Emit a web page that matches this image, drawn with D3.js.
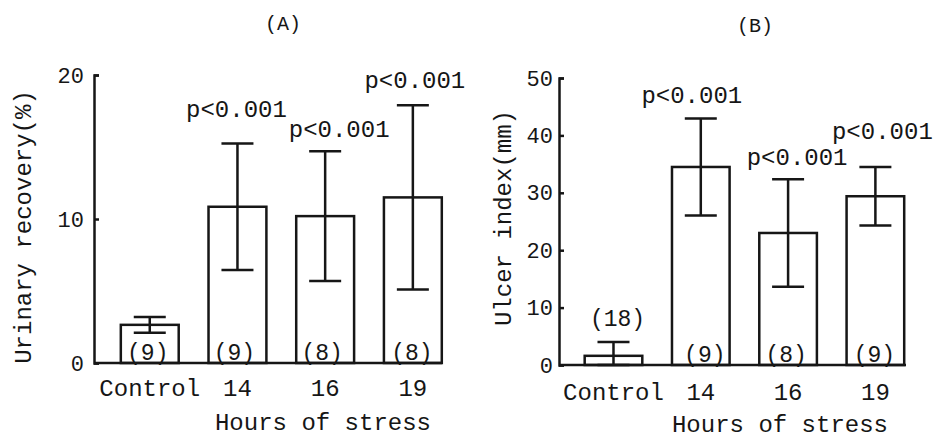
<!DOCTYPE html>
<html>
<head>
<meta charset="utf-8">
<script src="https://cdn.jsdelivr.net/npm/d3@7"></script>
<style>
  body { margin: 0; background: #fff; }
  svg text { font-family: "Liberation Mono", "DejaVu Sans Mono", monospace; fill: #161616; }
  .bar { fill: #fff; stroke: #161616; stroke-width: 2.5; }
  .err { stroke: #161616; stroke-width: 2.5; fill: none; }
  .axis path, .axis line { stroke: #161616; stroke-width: 2.5; }
</style>
</head>
<body>
<div class="wrapper-svg"></div>
<script>
// categories shared by both panels
var categories = ['Control', '14', '16', '19'];

// (A) urinary recovery (%)
var recoveryMean = [2.65, 10.85, 10.2, 11.5];
var recoverySem = [0.55, 4.4, 4.5, 6.4];
var recoveryN = ['(9)', '(9)', '(8)', '(8)'];
var recoveryP = ['', 'p<0.001', 'p<0.001', 'p<0.001'];
var recoveryTicks = [0, 10, 20];

// (B) ulcer index (mm)
var ulcerMean = [1.6, 34.5, 23.0, 29.4];
var ulcerSem = [2.4, 8.45, 9.35, 5.1];
var ulcerN = ['(18)', '(9)', '(8)', '(9)'];
var ulcerP = ['', 'p<0.001', 'p<0.001', 'p<0.001'];
var ulcerTicks = [0, 10, 20, 30, 40, 50];

var svg = d3.select('.wrapper-svg')
    .append('svg')
    .attr('width', 938)
    .attr('height', 440);

function drawPanel(p) {
    var x = d3.scaleBand()
        .domain(categories)
        .range([p.bandLeft, p.bandLeft + 4.34 * p.step])
        .paddingInner(0.34)
        .paddingOuter(0.34);

    var y = d3.scaleLinear()
        .domain([0, p.max])
        .range([p.bottom, p.top]);

    var g = svg.append('g');

    // bars
    g.selectAll('rect.bar')
        .data(p.mean)
        .enter().append('rect')
        .classed('bar', true)
        .attr('x', function(d, i) { return x(categories[i]); })
        .attr('y', function(d) { return y(d); })
        .attr('width', x.bandwidth())
        .attr('height', function(d) { return y(0) - y(d); });

    // error bars
    p.mean.forEach(function(m, i) {
        var cx = x(categories[i]) + x.bandwidth() / 2;
        var hi = y(m + p.sem[i]);
        var lo = y(Math.max(0, m - p.sem[i]));
        g.append('path')
            .classed('err', true)
            .attr('d', 'M' + cx + ',' + hi + 'V' + lo +
                'M' + (cx - 16) + ',' + hi + 'H' + (cx + 16) +
                'M' + (cx - 16) + ',' + lo + 'H' + (cx + 16));

        if (p.pval[i]) {
            g.append('text')
                .text(p.pval[i])
                .attr('text-anchor', 'middle')
                .attr('x', cx + p.pdx[i])
                .attr('y', hi - p.pdy[i])
                .attr('dy', '0.35em')
                .style('font-size', '24px');
        }

        var inside = y(0) - y(m) > 30;
        g.append('text')
            .text(p.n[i])
            .attr('text-anchor', 'middle')
            .attr('x', cx + p.ndx[i])
            .attr('y', inside ? y(0) - 11 : hi - 24)
            .attr('dy', '0.35em')
            .style('font-size', '23px');
    });

    // y axis
    g.append('g')
        .classed('axis', true)
        .attr('transform', 'translate(' + p.axisX + ',0)')
        .call(d3.axisLeft(y).tickValues(p.ticks).tickSizeInner(-5).tickSizeOuter(-5).tickPadding(p.tickPad))
        .call(function(a) { a.selectAll('text').style('font-size', '22px'); });

    // baseline
    g.append('line')
        .attr('x1', p.axisX)
        .attr('x2', p.axisEnd)
        .attr('y1', y(0))
        .attr('y2', y(0))
        .style('stroke', '#161616')
        .style('stroke-width', 2.5);

    // category labels
    g.append('g')
        .attr('transform', 'translate(0,' + y(0) + ')')
        .call(d3.axisBottom(x).tickSize(0).tickPadding(p.catPad))
        .call(function(a) {
            a.select('.domain').remove();
            a.selectAll('text').style('font-size', '24px').attr('fill', '#161616');
        });

    g.append('text')
        .text('Hours of stress')
        .attr('text-anchor', 'middle')
        .attr('x', p.xTitleX)
        .attr('y', p.xTitleY)
        .attr('dy', '0.35em')
        .style('font-size', '24px');

    g.append('text')
        .text(p.yTitle)
        .attr('text-anchor', 'middle')
        .attr('transform', 'translate(' + p.yTitleX + ',' + p.yTitleY + ') rotate(-90)')
        .attr('dy', '0.35em')
        .style('font-size', '24px');

    g.append('text')
        .text(p.label)
        .attr('text-anchor', 'middle')
        .attr('x', p.labelX)
        .attr('y', p.labelY)
        .attr('dy', '0.35em')
        .style('font-size', '20px');
}

drawPanel({
    mean: recoveryMean, sem: recoverySem, n: recoveryN, pval: recoveryP, ticks: recoveryTicks,
    max: 20, top: 75, bottom: 363, axisX: 94, axisEnd: 442, bandLeft: 91, step: 87.7,
    tickPad: 10, catPad: 16,
    pdx: [0, -1, 14, 2], pdy: [0, 35, 23, 26], ndx: [-2, -3, -3, -1],
    xTitleX: 323, xTitleY: 422,
    yTitle: 'Urinary recovery(%)', yTitleX: 23, yTitleY: 227,
    label: '(A)', labelX: 283, labelY: 23
});

drawPanel({
    mean: ulcerMean, sem: ulcerSem, n: ulcerN, pval: ulcerP, ticks: ulcerTicks,
    max: 50, top: 78, bottom: 365, axisX: 559, axisEnd: 906, bandLeft: 555, step: 87.3,
    tickPad: 6, catPad: 18,
    pdx: [0, -9, 9, 7], pdy: [0, 24, 23, 36], ndx: [4, 4, -2, -1],
    xTitleX: 780, xTitleY: 424,
    yTitle: 'Ulcer index(mm)', yTitleX: 503, yTitleY: 218,
    label: '(B)', labelX: 755, labelY: 25
});
</script>
</body>
</html>
